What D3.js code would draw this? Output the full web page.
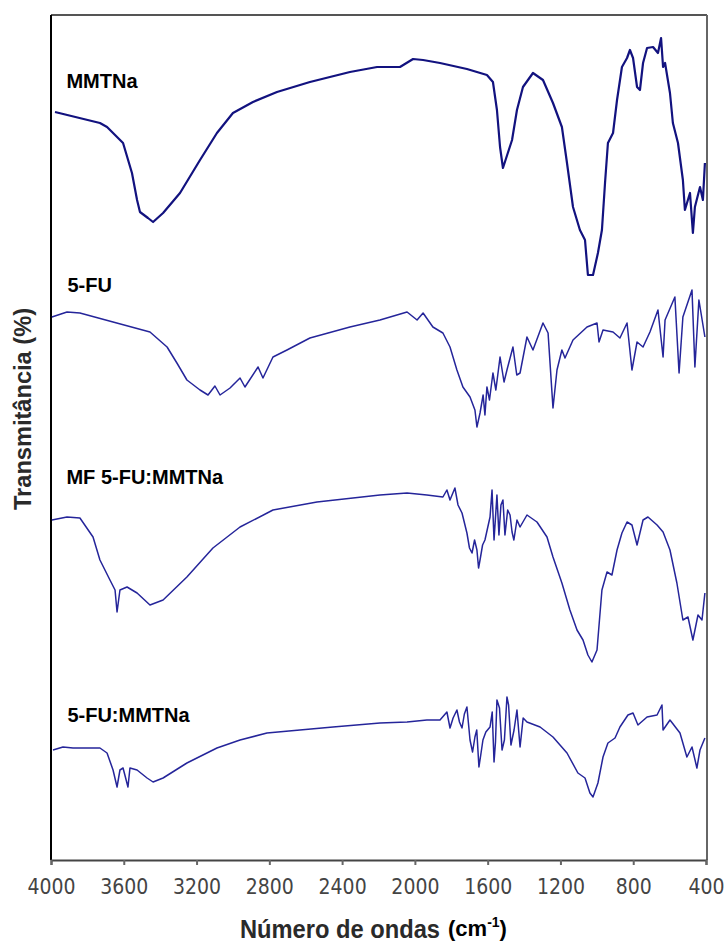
<!DOCTYPE html>
<html>
<head>
<meta charset="utf-8">
<script src="https://cdn.jsdelivr.net/npm/d3@7"></script>
<style>
  body { margin: 0; background: #fff; }
  svg { display: block; }
</style>
</head>
<body>
<script>
// FTIR spectra, [wavenumber cm-1, transmittance (offset, arbitrary units)]
const mmtna = [
  [3978,74.8],[3731,73.7],[3692,73.3],[3604,71.7],[3555,68.7],[3527,66.0],[3511,64.8],
  [3467,64.2],[3439,63.8],[3384,64.7],[3291,66.7],[3181,70.0],[3088,72.7],[3000,74.7],
  [2890,75.8],[2758,76.8],[2577,77.8],[2357,78.8],[2208,79.3],[2082,79.3],[2010,80.1],
  [1955,80.0],[1862,79.7],[1714,79.1],[1604,78.5],[1571,77.8],[1549,75.0],[1532,71.3],
  [1516,69.2],[1466,72.0],[1439,75.0],[1406,77.3],[1351,78.7],[1296,78.0],[1241,75.7],
  [1192,73.3],[1164,69.7],[1131,65.3],[1093,63.0],[1065,62.0],[1049,58.5],[1021,58.5],
  [994,60.7],[972,63.0],[955,67.7],[939,71.7],[911,72.7],[889,76.0],[862,79.3],[834,80.2],
  [818,81.0],[801,80.2],[779,77.3],[763,77.0],[746,79.7],[724,81.2],[691,81.3],[664,80.7],
  [647,82.2],[636,79.3],[625,79.7],[598,76.7],[582,73.7],[554,71.7],[527,68.0],[516,65.0],
  [488,66.7],[472,62.7],[461,65.3],[433,67.3],[417,66.0],[406,69.7]
];

const fu = [
  [3995,54.3],[3912,54.8],[3841,54.7],[3659,53.8],[3456,52.8],[3362,51.3],[3308,49.7],
  [3253,48.0],[3181,47.0],[3137,46.5],[3099,47.4],[3071,46.5],[3016,47.2],[2961,48.2],
  [2934,47.3],[2862,49.3],[2835,48.2],[2780,50.3],[2703,51.0],[2577,52.2],[2357,53.3],
  [2192,54.0],[2043,54.8],[1988,54.0],[1955,54.7],[1901,53.3],[1846,52.7],[1807,51.3],
  [1769,49.0],[1736,47.3],[1697,46.3],[1670,45.0],[1659,43.3],[1642,44.7],[1625,46.5],
  [1615,44.5],[1604,47.3],[1590,46.0],[1571,48.7],[1555,47.0],[1532,50.3],[1510,47.8],
  [1494,49.0],[1461,51.3],[1440,48.5],[1422,48.7],[1384,52.3],[1351,51.0],[1296,53.7],
  [1268,52.7],[1241,45.2],[1219,49.0],[1192,51.0],[1175,50.2],[1131,52.0],[1054,53.3],
  [999,53.7],[988,51.8],[966,53.0],[911,52.8],[873,52.2],[834,53.7],[807,49.0],[779,51.8],
  [746,51.3],[708,52.8],[664,55.0],[636,50.3],[625,54.0],[571,56.3],[548,48.7],[527,54.3],
  [477,57.0],[461,49.3],[439,56.0],[406,52.3]
];

const mfMix = [
  [3995,34.0],[3912,34.3],[3841,34.2],[3769,32.3],[3731,30.0],[3676,28.0],[3648,27.0],
  [3637,24.8],[3621,27.0],[3582,27.3],[3527,26.7],[3456,25.5],[3384,26.0],[3253,28.3],
  [3110,31.2],[2961,33.3],[2780,35.0],[2538,35.8],[2192,36.5],[2043,36.7],[1934,36.5],
  [1846,36.3],[1824,37.0],[1807,36.0],[1780,37.2],[1763,35.5],[1741,34.7],[1714,32.7],
  [1700,31.2],[1686,30.7],[1672,32.0],[1659,31.0],[1650,29.2],[1642,30.0],[1628,31.5],
  [1615,32.0],[1587,34.3],[1576,37.0],[1565,32.0],[1549,36.5],[1538,32.5],[1527,35.5],
  [1516,36.0],[1505,32.5],[1490,35.0],[1477,34.5],[1466,32.8],[1456,32.0],[1439,34.0],
  [1422,33.3],[1384,34.5],[1329,33.8],[1274,32.3],[1241,30.3],[1192,27.7],[1148,25.0],
  [1109,23.0],[1076,22.0],[1049,20.5],[1027,19.8],[999,21.0],[972,27.0],[944,28.8],
  [917,28.5],[889,31.0],[862,32.7],[834,33.8],[807,33.5],[779,31.5],[746,34.0],[719,34.3],
  [669,33.5],[636,32.8],[598,31.0],[560,27.7],[527,24.0],[499,24.3],[472,22.0],[444,24.5],
  [422,24.0],[406,26.7]
];

const fuMmtna = [
  [3989,11.0],[3934,11.3],[3879,11.2],[3731,11.2],[3692,10.7],[3659,9.0],[3637,7.3],
  [3621,9.0],[3604,9.2],[3577,7.3],[3566,9.2],[3527,9.0],[3472,8.2],[3439,7.8],[3384,8.2],
  [3253,9.7],[3088,11.2],[2961,12.0],[2813,12.7],[2632,13.0],[2450,13.3],[2192,13.7],
  [2043,13.8],[1934,14.0],[1862,14.0],[1824,14.8],[1807,13.2],[1790,14.2],[1769,15.0],
  [1755,13.8],[1741,13.2],[1728,14.6],[1714,15.3],[1697,12.0],[1683,10.8],[1670,12.3],
  [1660,13.0],[1648,9.3],[1638,10.5],[1626,12.0],[1610,12.8],[1587,13.3],[1575,14.8],
  [1565,9.8],[1557,11.8],[1549,16.0],[1535,15.2],[1521,11.0],[1508,12.0],[1494,16.3],
  [1485,15.5],[1472,11.5],[1455,13.0],[1439,15.0],[1422,11.3],[1405,14.2],[1384,13.8],
  [1312,13.3],[1241,12.3],[1164,10.7],[1104,8.7],[1065,8.2],[1038,6.7],[1021,6.3],
  [994,7.7],[966,10.3],[939,11.7],[900,12.2],[873,13.3],[829,14.5],[801,14.7],[774,13.5],
  [724,14.3],[669,14.5],[642,15.5],[636,13.0],[598,14.0],[543,12.7],[505,10.3],[477,11.3],
  [450,9.2],[433,11.0],[406,12.2]
];

const seriesNames = ['MMTNa', '5-FU', 'MF 5-FU:MMTNa', '5-FU:MMTNa'];
const seriesData = [mmtna, fu, mfMix, fuMmtna];
const labelAnchors = [[3915, 77.2], [3910, 56.8], [3915, 37.6], [3910, 13.8]]; // wn, T for the names
const xTicks = [4000, 3600, 3200, 2800, 2400, 2000, 1600, 1200, 800, 400];

const W = 724, H = 945;
const margin = {top: 15, right: 18, bottom: 85, left: 51};

const svg = d3.select('body').append('svg')
  .attr('width', W)
  .attr('height', H);

const x = d3.scaleLinear().domain([4000, 400]).range([margin.left, W - margin.right]);
const y = d3.scaleLinear().domain([0, 84.5]).range([H - margin.bottom, margin.top]);

// frame: top + right grey, left black
svg.append('line')
  .attr('x1', margin.left).attr('x2', W - margin.right + 1)
  .attr('y1', margin.top).attr('y2', margin.top)
  .attr('stroke', '#555').attr('stroke-width', 2);
svg.append('line')
  .attr('x1', W - margin.right + 1).attr('x2', W - margin.right + 1)
  .attr('y1', margin.top).attr('y2', H - margin.bottom)
  .attr('stroke', '#666').attr('stroke-width', 2);
svg.append('line')
  .attr('x1', margin.left).attr('x2', margin.left)
  .attr('y1', margin.top).attr('y2', H - margin.bottom)
  .attr('stroke', '#000').attr('stroke-width', 2);

// x axis
const xAxis = svg.append('g')
  .attr('transform', 'translate(0,' + (H - margin.bottom) + ')')
  .call(d3.axisBottom(x).tickValues(xTicks).tickSize(5).tickPadding(14).tickFormat(d => d));
xAxis.select('.domain').attr('stroke', '#444').attr('stroke-width', 2);
xAxis.selectAll('.tick line').attr('stroke', '#666').attr('stroke-width', 2);
xAxis.selectAll('.tick text')
  .attr('fill', '#444')
  .style('font-family', '"Liberation Sans Narrow", "Arial Narrow", "DejaVu Sans Condensed", sans-serif')
  .style('font-size', '21px');

// spectra
const line = d3.line().x(d => x(d[0])).y(d => y(d[1]));
svg.append('g').selectAll('path')
  .data(seriesData)
  .enter()
  .append('path')
  .attr('d', line)
  .attr('fill', 'none')
  .attr('stroke', (d, i) => i === 0 ? '#12127f' : '#25259a')
  .attr('stroke-width', (d, i) => i === 0 ? 2.2 : 1.5)
  .attr('stroke-linejoin', 'round');

// series names
svg.append('g').selectAll('text')
  .data(seriesNames)
  .enter()
  .append('text')
  .attr('x', (d, i) => x(labelAnchors[i][0]))
  .attr('y', (d, i) => y(labelAnchors[i][1]))
  .style('font-family', '"Liberation Sans", Arial, sans-serif')
  .style('font-weight', 'bold')
  .style('font-size', '20px')
  .attr('fill', '#000')
  .text(d => d);

// y label
svg.append('text')
  .attr('transform', 'translate(31,409) rotate(-90)')
  .attr('text-anchor', 'middle')
  .attr('textLength', 202)
  .attr('lengthAdjust', 'spacingAndGlyphs')
  .style('font-family', '"Liberation Sans Narrow", "Arial Narrow", sans-serif')
  .style('font-weight', 'bold')
  .style('font-size', '24px')
  .attr('fill', '#2a2a2a')
  .text('Transmitância (%)');

// x label
svg.append('text')
  .attr('x', 240)
  .attr('y', 938)
  .attr('textLength', 200)
  .attr('lengthAdjust', 'spacingAndGlyphs')
  .style('font-family', '"Liberation Sans Narrow", "Arial Narrow", sans-serif')
  .style('font-weight', 'bold')
  .style('font-size', '25px')
  .attr('fill', '#2a2a2a')
  .text('Número de ondas');

const unit = svg.append('text')
  .attr('x', 448)
  .attr('y', 936)
  .style('font-family', '"Liberation Sans", Arial, sans-serif')
  .style('font-weight', 'bold')
  .style('font-size', '22px')
  .attr('fill', '#000');
unit.append('tspan').text('(cm');
unit.append('tspan').attr('dy', -9).style('font-size', '14px').text('-1');
unit.append('tspan').attr('dy', 9).text(')');
</script>
</body>
</html>
